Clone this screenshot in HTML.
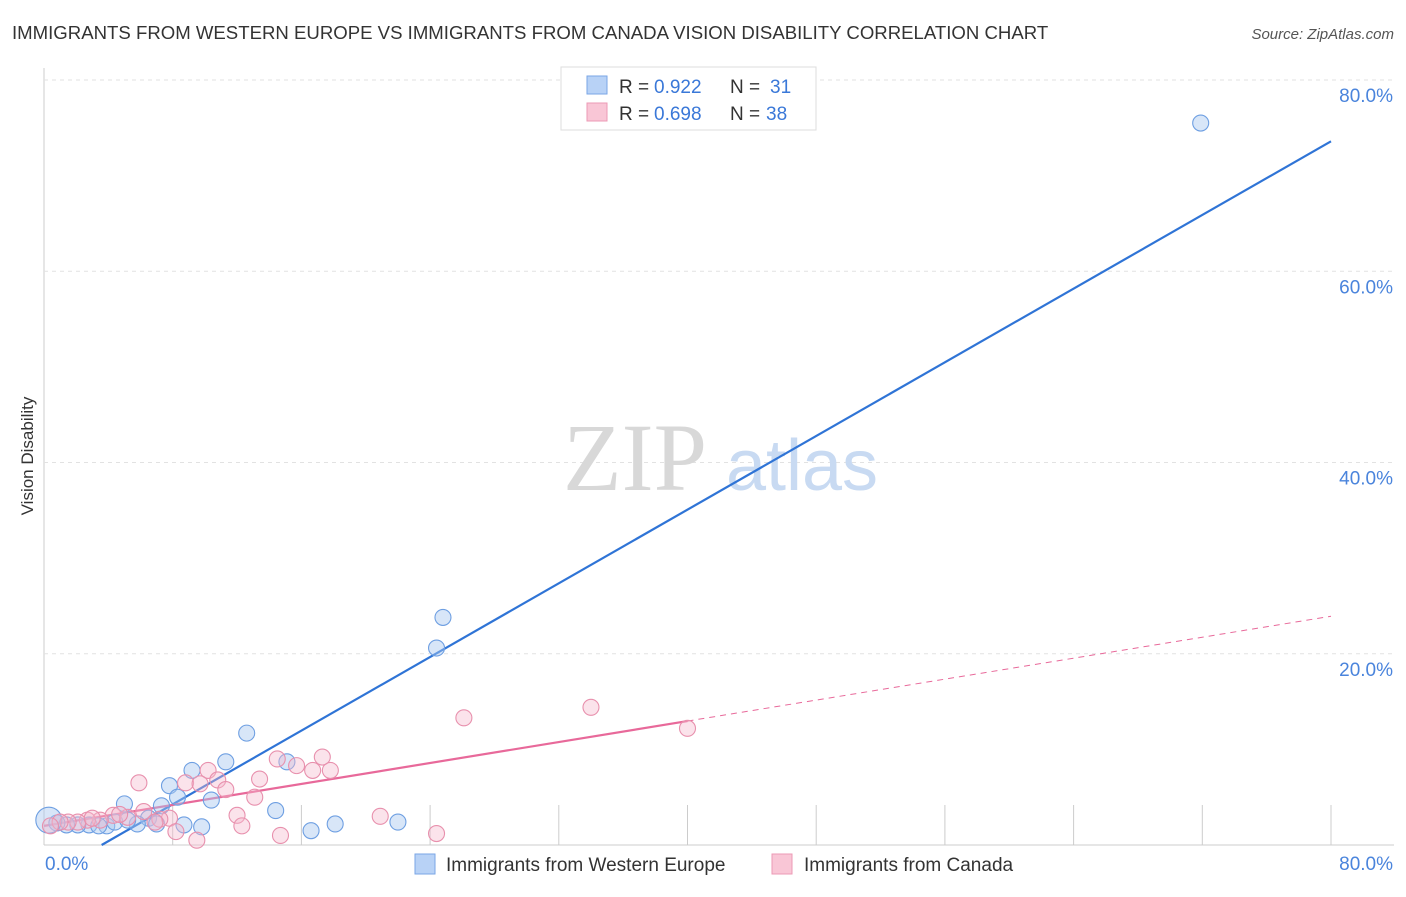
<!DOCTYPE html>
<html><head><meta charset="utf-8"><style>
body{margin:0;background:#fff;font-family:"Liberation Sans",sans-serif}
</style></head><body>
<svg id="chart" width="1406" height="892" xmlns="http://www.w3.org/2000/svg" font-family="Liberation Sans, sans-serif">
<text x="12" y="39" font-size="18.6" fill="#333">IMMIGRANTS FROM WESTERN EUROPE VS IMMIGRANTS FROM CANADA VISION DISABILITY CORRELATION CHART</text>
<text x="1394" y="39" font-size="15" fill="#555" text-anchor="end" font-style="italic">Source: ZipAtlas.com</text>
<text transform="translate(33,456) rotate(-90)" font-size="17" fill="#333" text-anchor="middle">Vision Disability</text>
<g id="grid"></g>
<g>
<text x="635" y="490" font-size="96" fill="#d8d8d8" text-anchor="middle" style="font-family:'Liberation Serif',serif">ZIP</text>
<text x="802" y="490" font-size="72" fill="#c8daf2" text-anchor="middle">atlas</text></g>
<g id="lines"></g>
<g id="points"></g>
<g>
<rect x="561" y="67" width="255" height="63" fill="#fff" stroke="#ddd"/>
<rect x="587" y="76" width="20" height="18" fill="#b8d2f6" stroke="#7aa6e6"/>
<text x="619" y="93" font-size="19" fill="#333">R =</text>
<text x="654" y="93" font-size="19" fill="#3a78d8">0.922</text>
<text x="730" y="93" font-size="19" fill="#333">N =</text>
<text x="770" y="93" font-size="19" fill="#3a78d8">31</text>
<rect x="587" y="103" width="20" height="18" fill="#f9c6d6" stroke="#ec9ab5"/>
<text x="619" y="120" font-size="19" fill="#333">R =</text>
<text x="654" y="120" font-size="19" fill="#3a78d8">0.698</text>
<text x="730" y="120" font-size="19" fill="#333">N =</text>
<text x="766" y="120" font-size="19" fill="#3a78d8">38</text>
</g>
<g>
<rect x="415" y="854" width="20" height="20" fill="#b8d2f6" stroke="#7aa6e6"/>
<text x="446" y="871" font-size="19" fill="#333">Immigrants from Western Europe</text>
<rect x="772" y="854" width="20" height="20" fill="#f9c6d6" stroke="#ec9ab5"/>
<text x="804" y="871" font-size="19" fill="#333">Immigrants from Canada</text>
</g>
</svg>
<script>
const yTicks=[20,40,60,80];
const xTickLabels=["0.0%","80.0%"];
const blueX=[71.9,24.8,24.4,12.6,11.3,9.2,7.8,8.3,10.4,5.0,7.3,14.4,6.5,5.8,7.0,8.7,9.8,3.9,2.8,2.1,1.4,0.8,3.4,16.6,18.1,22.0,15.1,4.4,5.2,0.3];
const blueY=[75.5,23.8,20.6,11.7,8.7,7.8,6.2,5.0,4.7,4.3,4.1,3.6,2.8,2.2,2.2,2.1,1.9,2.0,2.1,2.1,2.1,2.3,2.0,1.5,2.2,2.4,8.7,2.4,2.6,2.6];
const pinkX=[40.0,34.0,26.1,17.3,14.5,15.7,16.7,17.8,10.2,10.8,8.8,5.9,13.4,11.3,9.7,13.1,6.2,7.8,12.0,12.3,20.9,4.3,5.2,3.5,2.7,2.1,1.5,7.2,6.9,8.2,14.7,24.4,9.5,1.0,0.4,4.7,3.0];
const pinkY=[12.2,14.4,13.3,9.2,9.0,8.3,7.8,7.8,7.8,6.8,6.5,6.5,6.9,5.8,6.4,5.0,3.5,2.8,3.1,2.0,3.0,3.1,2.9,2.6,2.6,2.4,2.4,2.7,2.4,1.4,1.0,1.2,0.5,2.4,2.0,3.2,2.8];
const blueFit=[0.963,-3.45];
const pinkFit=[0.274,2.0];
const NS="http://www.w3.org/2000/svg";
const xs=v=>44+v*16.0875, ys=v=>845-v*9.5625;
function mk(t,a,p){const e=document.createElementNS(NS,t);for(const k in a)e.setAttribute(k,a[k]);p.appendChild(e);return e;}
const g=document.getElementById('grid');
mk('line',{x1:44,y1:68,x2:44,y2:845,stroke:'#ccc'},g);
mk('line',{x1:44,y1:845,x2:1394,y2:845,stroke:'#ccc'},g);
yTicks.forEach(t=>{
 const l=mk('line',{x1:44,y1:ys(t),x2:1394,y2:ys(t),stroke:'#e2e2e2','stroke-dasharray':'4,4'},g);
 
 
 const tx=mk('text',{x:1393,y:ys(t)+22,'font-size':19,fill:'#4a84dc','text-anchor':'end'},g);tx.textContent=t.toFixed(1)+'%';
 
 
});
for(let i=1;i<=10;i++){mk('line',{x1:xs(i*8),y1:805,x2:xs(i*8),y2:845,stroke:'#ccc'},g);}
const x0=mk('text',{x:45,y:870,'font-size':19,fill:'#4a84dc'},g);x0.textContent=xTickLabels[0];


const x1=mk('text',{x:1393,y:870,'font-size':19,fill:'#4a84dc','text-anchor':'end'},g);x1.textContent=xTickLabels[1];


const P=document.getElementById('points');
blueX.forEach((x,i)=>{const c=mk('circle',{cx:xs(x),cy:ys(blueY[i]),r:(i==blueX.length-1)?13:8,fill:'rgba(168,200,240,0.45)',stroke:'#6e9fe2','stroke-width':1.1},P);
 
 });
pinkX.forEach((x,i)=>{const c=mk('circle',{cx:xs(x),cy:ys(pinkY[i]),r:8,fill:'rgba(245,184,204,0.4)',stroke:'#e890ad','stroke-width':1.1},P);
 
 });
const L=document.getElementById('lines');
const bx0=-blueFit[1]/blueFit[0];
const bl=mk('line',{x1:xs(bx0),y1:ys(0),x2:xs(80),y2:ys(blueFit[0]*80+blueFit[1]),stroke:'#2f74d6','stroke-width':2.2},L);


const pmax=Math.max(...pinkX);
const pl=mk('line',{x1:xs(0),y1:ys(pinkFit[1]),x2:xs(pmax),y2:ys(pinkFit[0]*pmax+pinkFit[1]),stroke:'#e8699a','stroke-width':2.2},L);


const pd=mk('line',{x1:xs(pmax),y1:ys(pinkFit[0]*pmax+pinkFit[1]),x2:xs(80),y2:ys(pinkFit[0]*80+pinkFit[1]),stroke:'#e8699a','stroke-width':1,'stroke-dasharray':'6,5'},L);


</script>
</body></html>
